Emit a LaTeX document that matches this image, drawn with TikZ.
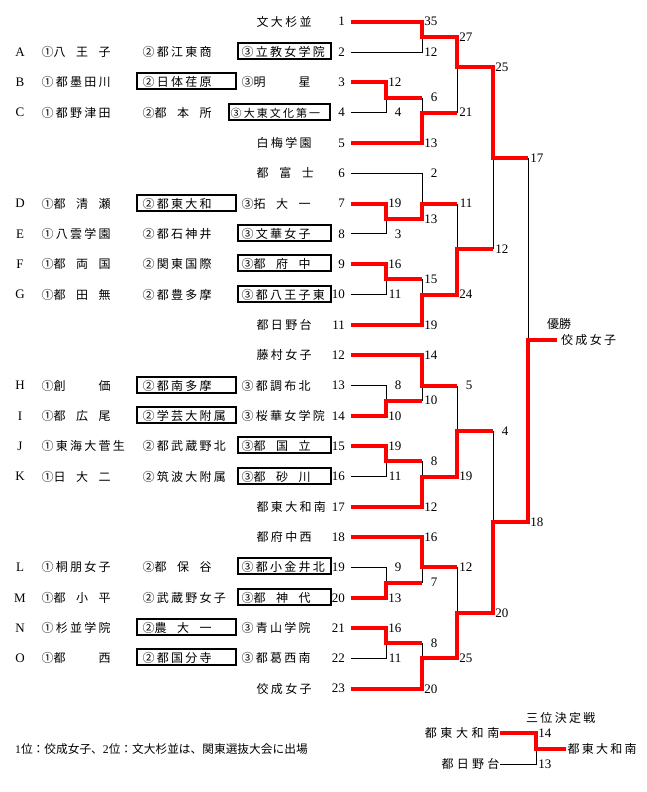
\documentclass[tikz,border=0pt]{standalone}
\usepackage{fontspec}
\setmainfont{Liberation Serif}
\newfontfamily\jp[LetterSpace=19]{Noto Sans CJK JP}
\newfontfamily\jpn{Noto Sans CJK JP}
\newcommand\sqx[1]{\makebox[57.1pt][l]{#1}}
\begin{document}
\begin{tikzpicture}[x=1pt,y=-1pt,
  declare function={R(\i)=21.7+30.32*(\i-1); H(\k)=21.7+15.16*\k;},
  jt/.style={font=\jp\fontsize{12}{12}\selectfont, inner sep=0pt, anchor=west, text height=10pt, text depth=1pt},
  jn/.style={font=\jpn\fontsize{12}{12}\selectfont, inner sep=0pt, text height=10pt, text depth=1pt},
  num/.style={font=\fontsize{13}{13}\selectfont, inner sep=0pt, anchor=east},
  lt/.style={font=\fontsize{13}{13}\selectfont, inner sep=0pt},
  box2/.style={draw, line width=2pt, minimum width=98.4pt, minimum height=16pt, inner sep=0pt},
  box3/.style={draw, line width=2pt, minimum width=93pt, minimum height=16pt, inner sep=0pt},
  box3s/.style={draw, line width=2pt, minimum width=100.7pt, minimum height=16pt, inner sep=0pt},
  win/.style={draw=red, line width=4pt, line join=miter},
  lose/.style={draw=black, line width=1pt}]
\useasboundingbox (0,0) rectangle (646,792);

% team numbers and line starts
\foreach \i in {1,...,23} {
  \node[num] (n\i) at (345,{R(\i)}) {\i};
  \coordinate (t\i) at (351,{R(\i)});
}

% letters
\foreach \r/\l in {2/A,3/B,4/C,7/D,8/E,9/F,10/G,13/H,14/I,15/J,16/K,19/L,20/M,21/N,22/O}
  \node[lt] (L\l) at (20,{R(\r)}) {\l};

% boxes
\node[box3]  (bx2)  at (284,{R(2)-1}) {};
\node[box2]  (bx3)  at (186.5,{R(3)-1}) {};
\node[box3s] (bx4)  at (279.65,{R(4)-1}) {};
\node[box2]  (bx7)  at (186.5,{R(7)-1}) {};
\node[box3]  (bx8)  at (284,{R(8)-1}) {};
\node[box3]  (bx9)  at (284,{R(9)-1}) {};
\node[box3]  (bx10) at (284,{R(10)-1}) {};
\node[box2]  (bx13) at (186.5,{R(13)-1}) {};
\node[box2]  (bx14) at (186.5,{R(14)-1}) {};
\node[box3]  (bx15) at (284,{R(15)-1}) {};
\node[box3]  (bx16) at (284,{R(16)-1}) {};
\node[box3]  (bx19) at (284,{R(19)-1}) {};
\node[box3]  (bx20) at (284,{R(20)-1}) {};
\node[box2]  (bx21) at (186.5,{R(21)-1}) {};
\node[box2]  (bx22) at (186.5,{R(22)-1}) {};

% column texts
\node[jt] (a1) at (41.3,{R(2)}) {①\sqx{八\hfill 王\hfill 子}};
\node[jt] (a2) at (142.3,{R(2)}) {②都江東商};
\node[jt] (a3) at (241.3,{R(2)}) {③立教女学院};
\node[jt] (b1) at (41.3,{R(3)}) {①都墨田川};
\node[jt] (b2) at (142.3,{R(3)}) {②日体荏原};
\node[jt] (b3) at (241.3,{R(3)}) {③\sqx{明\hfill 星}};
\node[jt] (c1) at (41.3,{R(4)}) {①都野津田};
\node[jt] (c2) at (142.3,{R(4)}) {②\sqx{都\hfill 本\hfill 所}};
\node[jt, font=\jp\fontsize{11}{11}\selectfont] (c3) at (230.5,{R(4)}) {③大東文化第一};
\node[jt] (d1) at (41.3,{R(7)}) {①\sqx{都\hfill 清\hfill 瀬}};
\node[jt] (d2) at (142.3,{R(7)}) {②都東大和};
\node[jt] (d3) at (241.3,{R(7)}) {③\sqx{拓\hfill 大\hfill 一}};
\node[jt] (e1) at (41.3,{R(8)}) {①八雲学園};
\node[jt] (e2) at (142.3,{R(8)}) {②都石神井};
\node[jt] (e3) at (241.3,{R(8)}) {③文華女子};
\node[jt] (f1) at (41.3,{R(9)}) {①\sqx{都\hfill 両\hfill 国}};
\node[jt] (f2) at (142.3,{R(9)}) {②関東国際};
\node[jt] (f3) at (241.3,{R(9)}) {③\sqx{都\hfill 府\hfill 中}};
\node[jt] (g1) at (41.3,{R(10)}) {①\sqx{都\hfill 田\hfill 無}};
\node[jt] (g2) at (142.3,{R(10)}) {②都豊多摩};
\node[jt] (g3) at (241.3,{R(10)}) {③都八王子東};
\node[jt] (h1) at (41.3,{R(13)}) {①\sqx{創\hfill 価}};
\node[jt] (h2) at (142.3,{R(13)}) {②都南多摩};
\node[jt] (h3) at (241.3,{R(13)}) {③都調布北};
\node[jt] (i1) at (41.3,{R(14)}) {①\sqx{都\hfill 広\hfill 尾}};
\node[jt] (i2) at (142.3,{R(14)}) {②学芸大附属};
\node[jt] (i3) at (241.3,{R(14)}) {③桜華女学院};
\node[jt] (j1) at (41.3,{R(15)}) {①東海大菅生};
\node[jt] (j2) at (142.3,{R(15)}) {②都武蔵野北};
\node[jt] (j3) at (241.3,{R(15)}) {③\sqx{都\hfill 国\hfill 立}};
\node[jt] (k1) at (41.3,{R(16)}) {①\sqx{日\hfill 大\hfill 二}};
\node[jt] (k2) at (142.3,{R(16)}) {②筑波大附属};
\node[jt] (k3) at (241.3,{R(16)}) {③\sqx{都\hfill 砂\hfill 川}};
\node[jt] (l1) at (41.3,{R(19)}) {①桐朋女子};
\node[jt] (l2) at (142.3,{R(19)}) {②\sqx{都\hfill 保\hfill 谷}};
\node[jt] (l3) at (241.3,{R(19)}) {③都小金井北};
\node[jt] (m1) at (41.3,{R(20)}) {①\sqx{都\hfill 小\hfill 平}};
\node[jt] (m2) at (142.3,{R(20)}) {②武蔵野女子};
\node[jt] (m3) at (241.3,{R(20)}) {③\sqx{都\hfill 神\hfill 代}};
\node[jt] (o1) at (41.3,{R(21)}) {①杉並学院};
\node[jt] (o2) at (142.3,{R(21)}) {②\sqx{農\hfill 大\hfill 一}};
\node[jt] (o3) at (241.3,{R(21)}) {③青山学院};
\node[jt] (p1) at (41.3,{R(22)}) {①\sqx{都\hfill 西}};
\node[jt] (p2) at (142.3,{R(22)}) {②都国分寺};
\node[jt] (p3) at (241.3,{R(22)}) {③都葛西南};

% unseeded teams
\node[jt] (u1)  at (256.5,{R(1)})  {文大杉並};
\node[jt] (u5)  at (256.5,{R(5)})  {白梅学園};
\node[jt] (u6)  at (256.5,{R(6)})  {\sqx{都\hfill 富\hfill 士}};
\node[jt] (u11) at (256.5,{R(11)}) {都日野台};
\node[jt] (u12) at (256.5,{R(12)}) {藤村女子};
\node[jt] (u17) at (256.5,{R(17)}) {都東大和南};
\node[jt] (u18) at (256.5,{R(18)}) {都府中西};
\node[jt] (u23) at (256.5,{R(23)}) {佼成女子};

% bracket: losing lines
\draw[lose] (t2) -| (422,{H(1)});
\draw[lose] (t4) -| (386,{H(5)});
\draw[lose] (422,{H(5)}) -- (422,{H(6)});
\draw[lose] (457,{H(6)}) -- (457,{H(3)});
\draw[lose] (t6) -| (422,{H(12)});
\draw[lose] (t8) -| (386,{H(13)});
\draw[lose] (457,{H(12)}) -- (457,{H(15)});
\draw[lose] (t10) -| (386,{H(17)});
\draw[lose] (422,{H(17)}) -- (422,{H(18)});
\draw[lose] (493,{H(15)}) -- (493,{H(9)});
\draw[lose] (528,{H(9)}) -- (528,{H(21)});
\draw[lose] (457,{H(24)}) -- (457,{H(27)});
\draw[lose] (t13) -| (386,{H(25)});
\draw[lose] (422,{H(25)}) -- (422,{H(24)});
\draw[lose] (t16) -| (386,{H(29)});
\draw[lose] (422,{H(29)}) -- (422,{H(30)});
\draw[lose] (493,{H(27)}) -- (493,{H(33)});
\draw[lose] (457,{H(36)}) -- (457,{H(39)});
\draw[lose] (t19) -| (386,{H(37)});
\draw[lose] (422,{H(37)}) -- (422,{H(36)});
\draw[lose] (t22) -| (386,{H(41)});
\draw[lose] (422,{H(41)}) -- (422,{H(42)});

% bracket: winning lines
\coordinate (champ) at (557,{H(21)});
\draw[win] (t1) -| (422,{H(1)}) -| (457,{H(3)}) -| (493,{H(9)}) -- (528,{H(9)});
\draw[win] (t3) -| (386,{H(5)}) -- (422,{H(5)});
\draw[win] (t5) -| (422,{H(6)}) -- (457,{H(6)});
\draw[win] (t7) -| (386,{H(13)}) -| (422,{H(12)}) -- (457,{H(12)});
\draw[win] (t9) -| (386,{H(17)}) -- (422,{H(17)});
\draw[win] (t11) -| (422,{H(18)}) -| (457,{H(15)}) -- (493,{H(15)});
\draw[win] (t12) -| (422,{H(24)}) -- (457,{H(24)});
\draw[win] (t14) -| (386,{H(25)}) -- (422,{H(25)});
\draw[win] (t15) -| (386,{H(29)}) -- (422,{H(29)});
\draw[win] (t17) -| (422,{H(30)}) -| (457,{H(27)}) -- (493,{H(27)});
\draw[win] (t18) -| (422,{H(36)}) -- (457,{H(36)});
\draw[win] (t20) -| (386,{H(37)}) -- (422,{H(37)});
\draw[win] (t21) -| (386,{H(41)}) -- (422,{H(41)});
\draw[win] (t23) -| (422,{H(42)}) -| (457,{H(39)}) -| (493,{H(33)}) -| (528,{H(21)}) -- (champ);

% scores
\foreach \k/\s [count=\n] in {4/12,6/4,12/19,14/3,16/16,18/11,24/8,26/10,28/19,30/11,36/9,38/13,40/16,42/11}
  \node[num] (sa\n) at (401.5,{H(\k)}) {\s};
\foreach \k/\s [count=\n] in {0/35,2/12,5/6,8/13,10/2,13/13,17/15,20/19,22/14,25/10,29/8,32/12,34/16,37/7,41/8,44/20}
  \node[num] (sb\n) at (437.5,{H(\k)}) {\s};
\foreach \k/\s [count=\n] in {1/27,6/21,12/11,18/24,24/5,30/19,36/12,42/25}
  \node[num] (sc\n) at (472.5,{H(\k)}) {\s};
\foreach \k/\s [count=\n] in {3/25,15/12,27/4,39/20}
  \node[num] (sd\n) at (508.5,{H(\k)}) {\s};
\foreach \k/\s [count=\n] in {9/17,33/18}
  \node[num] (se\n) at (543.5,{H(\k)}) {\s};

% champion
\node[jn, anchor=west] (yusho) at (547,324) {優勝};
\node[jt] (champname) at (561,{H(21)}) {佼成女子};

% third place
\node[jt] (third) at (526,718) {三位決定戦};
\node[jn, anchor=east] (tpA) at (499.5,733) {\makebox[74.5pt][l]{都\hfill 東\hfill 大\hfill 和\hfill 南}};
\node[jn, anchor=east] (tpB) at (499.5,764) {\makebox[57.8pt][l]{都\hfill 日\hfill 野\hfill 台}};
\coordinate (tpa) at (500,733);
\coordinate (tpb) at (500,764);
\coordinate (tpw) at (566,748.5);
\draw[lose] (tpb) -| (536,748.5);
\draw[win] (tpa) -| (536,748.5) -- (tpw);
\node[num] (tp14) at (551.5,733) {14};
\node[num] (tp13) at (551.5,764) {13};
\node[jt] (tpres) at (567.3,748.5) {都東大和南};

% note
\node[jn, anchor=west, font=\jpn\fontsize{11.7}{11.7}\selectfont] (note) at (15,749)
  {{\rmfamily 1}位：佼成女子、{\rmfamily 2}位：文大杉並は、関東選抜大会に出場};
\end{tikzpicture}
\end{document}
